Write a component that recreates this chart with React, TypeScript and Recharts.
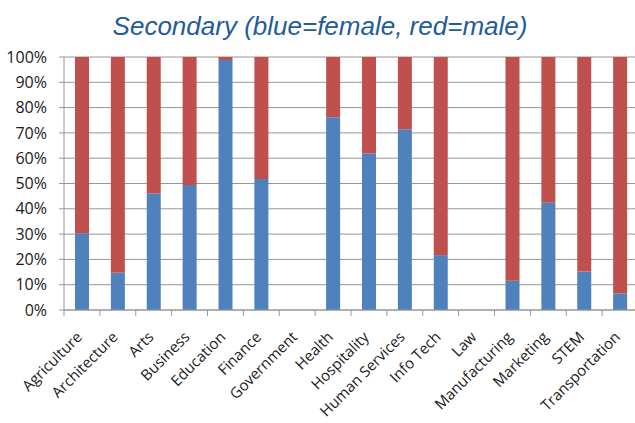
import React from "react";
import { BarChart, Bar, XAxis, YAxis, CartesianGrid } from "recharts";

const categories = [
  "Agriculture", "Architecture", "Arts", "Business", "Education", "Finance",
  "Government", "Health", "Hospitality", "Human Services", "Info Tech", "Law",
  "Manufacturing", "Marketing", "STEM", "Transportation",
];
const female = [30.3, 14.7, 46, 49.4, 98.8, 51.8, 0, 76.2, 61.9, 71.4, 21.7, 0, 11.6, 42.4, 15.2, 6.6];
const male = [69.7, 85.3, 54, 50.6, 1.2, 48.2, 0, 23.8, 38.1, 28.6, 78.3, 0, 88.4, 57.6, 84.8, 93.4];
const yTicks = [0, 10, 20, 30, 40, 50, 60, 70, 80, 90, 100];

const data = categories.map((c, i) => ({ name: c, female: female[i], male: male[i] }));

const FONT = "'Open Sans', 'Liberation Sans', sans-serif";

const XTick = (props: any) => {
  const { x, y, payload } = props;
  const half = payload && payload.offset ? payload.offset : 17.9;
  const tx = x + 1;
  const ty = y + 16;
  return (
    <g>
      <line x1={x - half} y1={y - 12} x2={x - half} y2={y - 6} stroke="#999" strokeWidth={1} />
      <text
        x={tx}
        y={ty}
        transform={`rotate(-45, ${tx}, ${ty})`}
        textAnchor="end"
        fontSize={15}
        fontFamily={FONT}
        fill="#1a1a1a"
      >
        {payload.value}
      </text>
    </g>
  );
};

export default function App() {
  return (
    <div style={{ position: "fixed", left: 0, top: 0, width: 635, height: 423, overflow: "hidden", background: "#fff" }}>
      <div
        style={{
          position: "absolute",
          left: 0,
          top: 11,
          width: 640,
          textAlign: "center",
          fontFamily: "'Liberation Sans', Arial, sans-serif",
          fontStyle: "italic",
          fontSize: 26,
          color: "#1F5C99",
          lineHeight: "30px",
        }}
      >
        Secondary (blue=female, red=male)
      </div>
      <div style={{ position: "absolute", left: 0, top: 0 }}>
        <BarChart
          width={641}
          height={423}
          data={data}
          margin={{ top: 57, right: 3, bottom: 13, left: 0 }}
          barSize={14}
        >
          <CartesianGrid vertical={false} stroke="#969696" strokeWidth={1} />
          <XAxis
            dataKey="name"
            interval={0}
            height={100}
            tickLine={false}
            tickSize={6}
            tickMargin={6}
            axisLine={{ stroke: "#969696" }}
            tick={<XTick />}
          />
          <YAxis
            width={64}
            domain={[0, 100]}
            ticks={yTicks}
            tickFormatter={(v: number) => `${v}%`}
            tickLine={{ stroke: "#969696" }}
            tickSize={5}
            tickMargin={12}
            axisLine={{ stroke: "#969696" }}
            tick={{ fontSize: 16, fontFamily: FONT, fill: "#1a1a1a" }}
          />
          <Bar dataKey="female" stackId="a" fill="#4F81BD" isAnimationActive={false} />
          <Bar dataKey="male" stackId="a" fill="#C0504D" isAnimationActive={false} />
        </BarChart>
      </div>
    </div>
  );
}
